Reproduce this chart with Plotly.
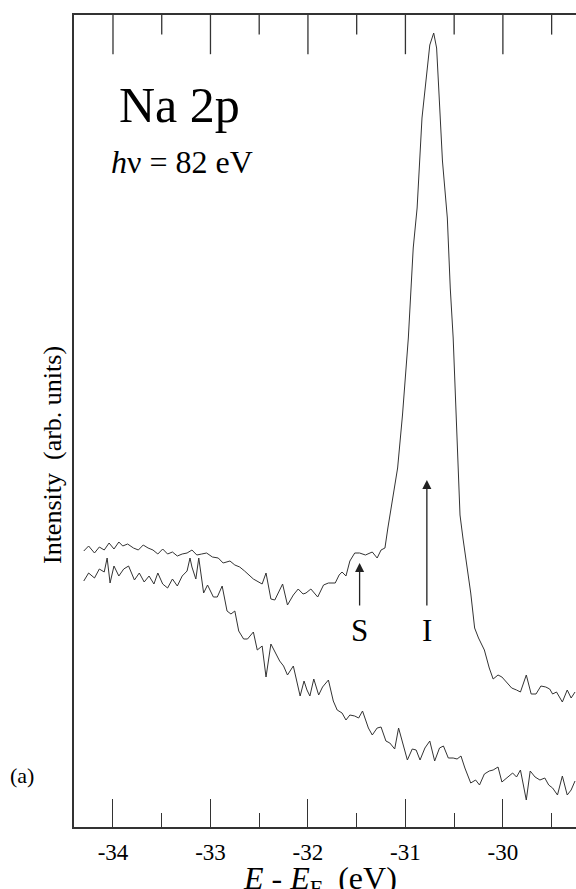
import plotly.graph_objects as go

# ---- data (E - E_F in eV, intensity in arbitrary units) ----
upper_E = [-34.30, -34.25, -34.19, -34.14, -34.09, -34.04, -33.99, -33.94, -33.90, -33.85,
           -33.79, -33.74, -33.69, -33.64, -33.59, -33.54, -33.49, -33.44, -33.39, -33.34,
           -33.29, -33.24, -33.19, -33.14, -33.09, -33.04, -32.98, -32.92, -32.87, -32.80,
           -32.75, -32.70, -32.65, -32.56, -32.47, -32.43, -32.38, -32.34, -32.26, -32.21,
           -32.15, -32.10, -32.05, -32.02, -31.97, -31.90, -31.84, -31.79, -31.72, -31.68,
           -31.65, -31.61, -31.57, -31.52, -31.47, -31.41, -31.34, -31.29, -31.25, -31.21,
           -31.18, -31.13, -31.08, -31.03, -30.97, -30.92, -30.88, -30.83, -30.79, -30.75,
           -30.71, -30.68, -30.66, -30.62, -30.57, -30.54, -30.51, -30.47, -30.44, -30.41,
           -30.37, -30.33, -30.29, -30.25, -30.19, -30.14, -30.10, -30.05, -30.01, -29.96,
           -29.91, -29.86, -29.82, -29.76, -29.71, -29.66, -29.61, -29.56, -29.52, -29.49,
           -29.45, -29.39, -29.34, -29.30, -29.26]
upper_I = [276, 281, 274, 280, 277, 284, 278, 285, 281, 283,
           279, 277, 282, 279, 277, 273, 278, 273, 275, 271,
           273, 274, 277, 272, 273, 274, 270, 269, 264, 266,
           262, 260, 256, 248, 243, 254, 228, 227, 243, 222,
           232, 238, 233, 234, 238, 230, 242, 244, 244, 252,
           255, 251, 266, 274, 274, 272, 275, 269, 277, 279,
           299, 329, 359, 412, 489, 579, 619, 709, 749, 782,
           794, 779, 742, 666, 609, 539, 489, 386, 312, 289,
           262, 234, 199, 189, 177, 159, 148, 152, 150, 145,
           139, 137, 135, 152, 133, 133, 141, 140, 138, 133,
           135, 125, 137, 129, 135]

lower_E = [-34.30, -34.25, -34.19, -34.14, -34.09, -34.06, -34.03, -33.99, -33.94, -33.89,
           -33.84, -33.78, -33.73, -33.68, -33.63, -33.58, -33.54, -33.49, -33.44, -33.39,
           -33.34, -33.29, -33.24, -33.21, -33.19, -33.15, -33.12, -33.07, -33.03, -32.97,
           -32.93, -32.88, -32.83, -32.79, -32.75, -32.71, -32.66, -32.62, -32.56, -32.52,
           -32.47, -32.43, -32.38, -32.34, -32.29, -32.25, -32.21, -32.15, -32.11, -32.08,
           -32.04, -32.01, -31.98, -31.94, -31.89, -31.85, -31.79, -31.74, -31.70, -31.65,
           -31.61, -31.57, -31.52, -31.48, -31.44, -31.38, -31.34, -31.29, -31.25, -31.20,
           -31.16, -31.11, -31.07, -31.03, -30.98, -30.93, -30.89, -30.85, -30.80, -30.75,
           -30.70, -30.65, -30.61, -30.56, -30.51, -30.47, -30.43, -30.39, -30.33, -30.28,
           -30.24, -30.19, -30.14, -30.10, -30.05, -30.01, -29.95, -29.90, -29.86, -29.82,
           -29.76, -29.72, -29.67, -29.62, -29.57, -29.53, -29.49, -29.44, -29.39, -29.34,
           -29.30, -29.26]
lower_I = [246, 254, 249, 258, 255, 269, 244, 261, 251, 258,
           261, 247, 254, 245, 251, 243, 254, 243, 239, 248,
           241, 251, 256, 269, 260, 248, 269, 234, 242, 230,
           230, 241, 216, 213, 216, 196, 188, 188, 195, 177,
           181, 150, 183, 176, 166, 161, 152, 161, 144, 131,
           146, 137, 131, 148, 132, 140, 147, 126, 117, 114,
           107, 112, 111, 109, 116, 99, 92, 99, 100, 86,
           84, 78, 99, 84, 67, 78, 77, 67, 79, 86,
           66, 79, 81, 69, 69, 68, 71, 59, 44, 47,
           42, 53, 56, 57, 60, 45, 50, 54, 50, 57,
           27, 56, 50, 47, 49, 42, 39, 32, 51, 32,
           37, 46]

tick_vals = [-34, -33, -32, -31, -30]
tick_text = ["-34", "-33", "-32", "-31", "-30"]
minor_tick_vals = [-33.5, -32.5, -31.5, -30.5, -29.5]

x_range = [-34.40, -29.25]
y_range = [0, 812]

LINE = "#333333"
SERIF = "Times New Roman, Liberation Serif, serif"

fig = go.Figure()
fig.add_trace(go.Scatter(x=upper_E, y=upper_I, mode="lines",
                         line=dict(color=LINE, width=1), showlegend=False, hoverinfo="skip"))
fig.add_trace(go.Scatter(x=lower_E, y=lower_I, mode="lines",
                         line=dict(color=LINE, width=1), showlegend=False, hoverinfo="skip"))

# top-edge tick marks (half of each vertical marker is clipped by the plot frame)
fig.add_trace(go.Scatter(x=tick_vals, y=[y_range[1]] * len(tick_vals), mode="markers",
                         marker=dict(symbol="line-ns", size=56,
                                     line=dict(color=LINE, width=1.3)),
                         cliponaxis=True, showlegend=False, hoverinfo="skip"))
fig.add_trace(go.Scatter(x=minor_tick_vals, y=[y_range[1]] * len(minor_tick_vals),
                         mode="markers",
                         marker=dict(symbol="line-ns", size=28,
                                     line=dict(color=LINE, width=1.3)),
                         cliponaxis=True, showlegend=False, hoverinfo="skip"))

fig.update_layout(
    width=576, height=889,
    margin=dict(l=74, r=0, t=15, b=62),
    paper_bgcolor="white", plot_bgcolor="white",
    font=dict(family=SERIF, color="black"),
    xaxis=dict(range=x_range, tickvals=tick_vals, ticktext=tick_text,
               ticks="inside", ticklen=28, tickwidth=1.3, tickcolor=LINE,
               minor=dict(tickvals=minor_tick_vals, ticks="inside", ticklen=14,
                          tickwidth=1.3, tickcolor=LINE, showgrid=False),
               showline=True, linecolor=LINE, linewidth=1.5, mirror=True,
               showgrid=False, zeroline=False, ticklabelstandoff=4,
               tickfont=dict(size=23, family=SERIF, color="black")),
    yaxis=dict(range=y_range, showticklabels=False, ticks="",
               showline=True, linecolor=LINE, linewidth=1.5, mirror=False,
               showgrid=False, zeroline=False),
)

# arrows S and I
fig.add_annotation(x=-31.47, y=264, ax=-31.47, ay=220, xref="x", yref="y",
                   axref="x", ayref="y", showarrow=True, arrowhead=2,
                   arrowsize=1.4, arrowwidth=1.3, arrowcolor="#222222", text="")
fig.add_annotation(x=-30.78, y=347, ax=-30.78, ay=220, xref="x", yref="y",
                   axref="x", ayref="y", showarrow=True, arrowhead=2,
                   arrowsize=1.4, arrowwidth=1.3, arrowcolor="#222222", text="")
fig.add_annotation(x=-31.47, y=197, xref="x", yref="y", text="S", showarrow=False,
                   font=dict(size=31, family=SERIF, color="black"))
fig.add_annotation(x=-30.78, y=197, xref="x", yref="y", text="I", showarrow=False,
                   font=dict(size=31, family=SERIF, color="black"))

# labels
fig.add_annotation(x=-33.96, y=722, xref="x", yref="y", text="Na 2p", showarrow=False,
                   xanchor="left", yanchor="middle",
                   font=dict(size=50, family=SERIF, color="black"))
fig.add_annotation(x=-34.04, y=665, xref="x", yref="y", text="<i>h</i>ν = 82 eV",
                   showarrow=False, xanchor="left", yanchor="middle",
                   font=dict(size=32, family=SERIF, color="black"))
fig.add_annotation(x=-0.044, y=0.458, xref="paper", yref="paper",
                   text="Intensity  (arb. units)", textangle=-90, showarrow=False,
                   xanchor="center", yanchor="middle",
                   font=dict(size=26, family=SERIF, color="black"))
fig.add_annotation(x=-0.104, y=0.064, xref="paper", yref="paper", text="(a)",
                   showarrow=False, xanchor="center", yanchor="middle",
                   font=dict(size=22, family=SERIF, color="black"))
fig.add_annotation(x=0.49, y=-0.066, xref="paper", yref="paper",
                   text="<i>E</i> - <i>E</i><sub>F</sub>  (eV)", showarrow=False,
                   xanchor="center", yanchor="middle",
                   font=dict(size=32, family=SERIF, color="black"))

fig.write_html("out.html")
